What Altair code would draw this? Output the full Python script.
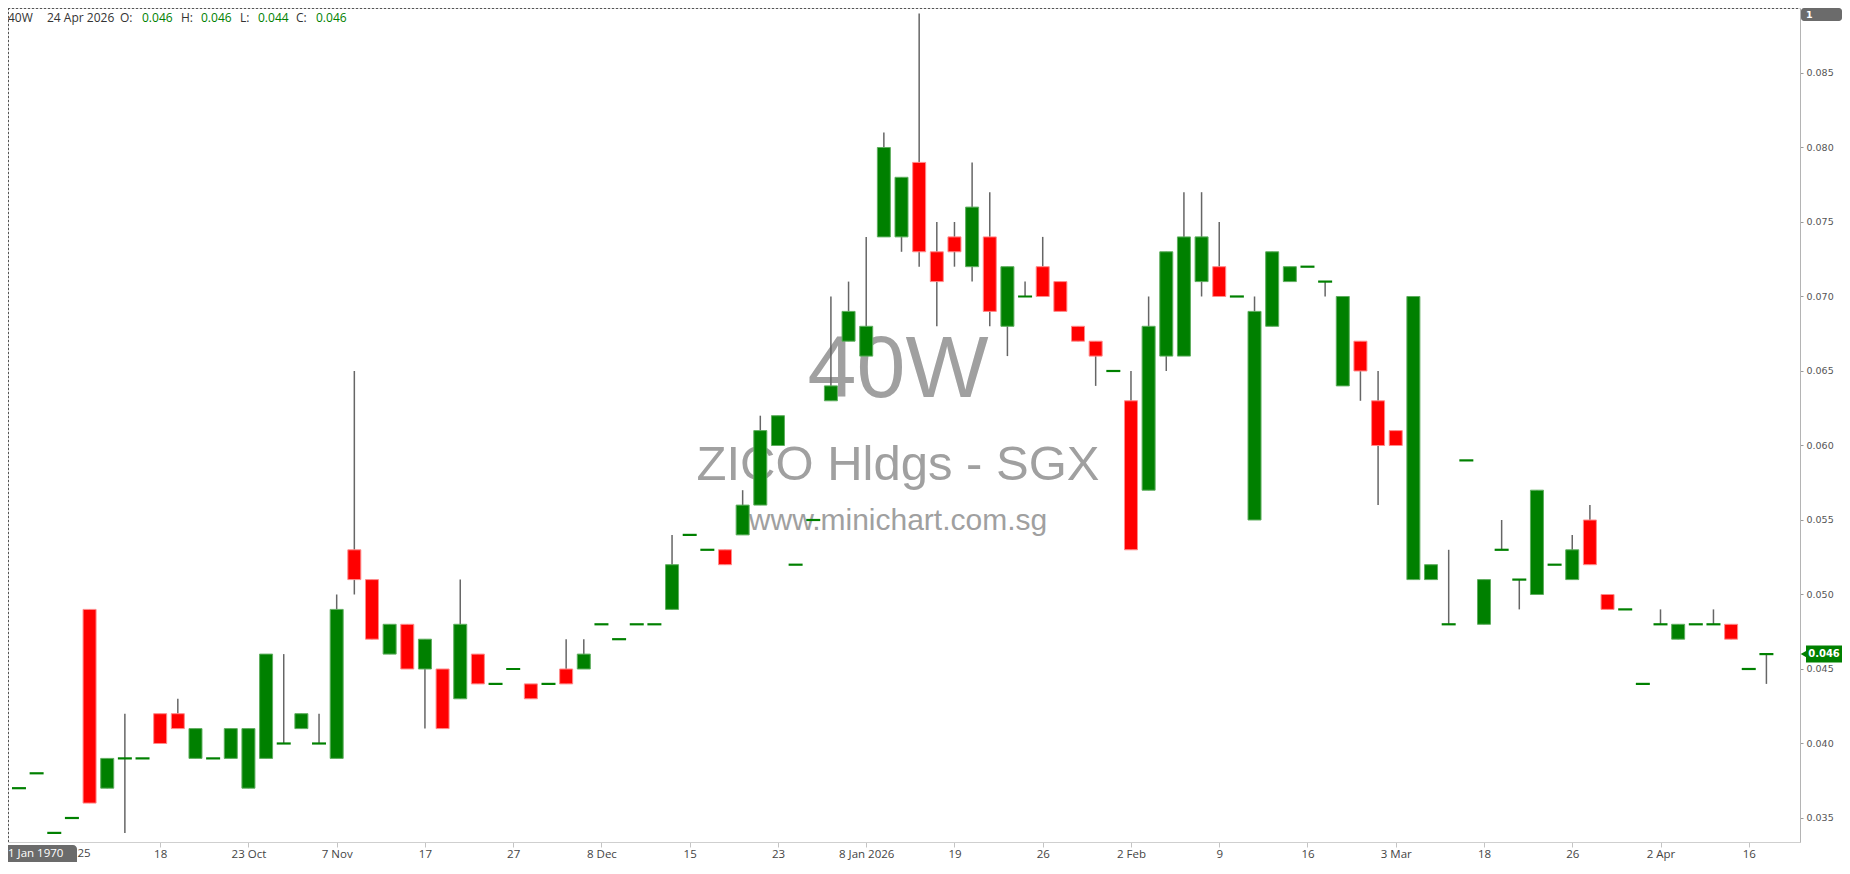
import json
import altair as alt
import pandas as pd

# ---------------- data ----------------
opens = [0.037, 0.038, 0.034, 0.035, 0.049, 0.037, 0.039, 0.039, 0.042, 0.042,
         0.039, 0.039, 0.039, 0.037, 0.039, 0.040, 0.041, 0.040, 0.039, 0.053,
         0.051, 0.046, 0.048, 0.045, 0.045, 0.043, 0.046, 0.044, 0.045, 0.044,
         0.044, 0.045, 0.045, 0.048, 0.047, 0.048, 0.048, 0.049, 0.054, 0.053,
         0.053, 0.054, 0.056, 0.060, 0.052, 0.055, 0.063, 0.067, 0.066, 0.074,
         0.074, 0.079, 0.073, 0.074, 0.072, 0.074, 0.068, 0.070, 0.072, 0.071,
         0.068, 0.067, 0.065, 0.063, 0.057, 0.066, 0.066, 0.071, 0.072, 0.070,
         0.055, 0.068, 0.071, 0.072, 0.071, 0.064, 0.067, 0.063, 0.061, 0.051,
         0.051, 0.048, 0.059, 0.048, 0.053, 0.051, 0.050, 0.052, 0.051, 0.055,
         0.050, 0.049, 0.044, 0.048, 0.047, 0.048, 0.048, 0.048, 0.045, 0.046]
highs = [0.037, 0.038, 0.034, 0.035, 0.049, 0.039, 0.042, 0.039, 0.042, 0.043,
         0.041, 0.039, 0.041, 0.041, 0.046, 0.046, 0.042, 0.042, 0.050, 0.065,
         0.051, 0.048, 0.048, 0.047, 0.045, 0.051, 0.046, 0.044, 0.045, 0.044,
         0.044, 0.047, 0.047, 0.048, 0.047, 0.048, 0.048, 0.054, 0.054, 0.053,
         0.053, 0.057, 0.062, 0.062, 0.052, 0.055, 0.070, 0.071, 0.074, 0.081,
         0.078, 0.089, 0.075, 0.075, 0.079, 0.077, 0.072, 0.071, 0.074, 0.071,
         0.068, 0.067, 0.065, 0.065, 0.070, 0.073, 0.077, 0.077, 0.075, 0.070,
         0.070, 0.073, 0.072, 0.072, 0.071, 0.070, 0.067, 0.065, 0.061, 0.070,
         0.052, 0.053, 0.059, 0.051, 0.055, 0.051, 0.057, 0.052, 0.054, 0.056,
         0.050, 0.049, 0.044, 0.049, 0.048, 0.048, 0.049, 0.048, 0.045, 0.046]
lows = [0.037, 0.038, 0.034, 0.035, 0.036, 0.037, 0.034, 0.039, 0.040, 0.041,
        0.039, 0.039, 0.039, 0.037, 0.039, 0.040, 0.041, 0.040, 0.039, 0.050,
        0.047, 0.046, 0.045, 0.041, 0.041, 0.043, 0.044, 0.044, 0.045, 0.043,
        0.044, 0.044, 0.045, 0.048, 0.047, 0.048, 0.048, 0.049, 0.054, 0.053,
        0.052, 0.054, 0.056, 0.060, 0.052, 0.055, 0.063, 0.067, 0.066, 0.074,
        0.073, 0.072, 0.068, 0.072, 0.071, 0.068, 0.066, 0.070, 0.070, 0.069,
        0.067, 0.064, 0.065, 0.053, 0.057, 0.065, 0.066, 0.070, 0.070, 0.070,
        0.055, 0.068, 0.071, 0.072, 0.070, 0.064, 0.063, 0.056, 0.060, 0.051,
        0.051, 0.048, 0.059, 0.048, 0.053, 0.049, 0.050, 0.052, 0.051, 0.052,
        0.049, 0.049, 0.044, 0.048, 0.047, 0.048, 0.048, 0.047, 0.045, 0.044]
closes = [0.037, 0.038, 0.034, 0.035, 0.036, 0.039, 0.039, 0.039, 0.040, 0.041,
          0.041, 0.039, 0.041, 0.041, 0.046, 0.040, 0.042, 0.040, 0.049, 0.051,
          0.047, 0.048, 0.045, 0.047, 0.041, 0.048, 0.044, 0.044, 0.045, 0.043,
          0.044, 0.044, 0.046, 0.048, 0.047, 0.048, 0.048, 0.052, 0.054, 0.053,
          0.052, 0.056, 0.061, 0.062, 0.052, 0.055, 0.064, 0.069, 0.068, 0.080,
          0.078, 0.073, 0.071, 0.073, 0.076, 0.069, 0.072, 0.070, 0.070, 0.069,
          0.067, 0.066, 0.065, 0.053, 0.068, 0.073, 0.074, 0.074, 0.070, 0.070,
          0.069, 0.073, 0.072, 0.072, 0.071, 0.070, 0.065, 0.060, 0.060, 0.070,
          0.052, 0.048, 0.059, 0.051, 0.053, 0.051, 0.057, 0.052, 0.053, 0.052,
          0.049, 0.049, 0.044, 0.048, 0.048, 0.048, 0.048, 0.047, 0.045, 0.046]

tick_idx = [8, 13, 18, 23, 28, 33, 38, 43, 48, 53, 58, 63, 68, 73, 78, 83, 88, 93, 98]
tick_text = ["18", "23 Oct", "7 Nov", "17", "27", "8 Dec", "15", "23", "8 Jan 2026",
             "19", "26", "2 Feb", "9", "16", "3 Mar", "18", "26", "2 Apr", "16"]
first_label = "25"
y_ticks = [0.035, 0.040, 0.045, 0.050, 0.055, 0.060, 0.065, 0.070, 0.075, 0.080, 0.085]

code = "40W"
last_date = "24 Apr 2026"
name = "ZICO Hldgs - SGX"
site = "www.minichart.com.sg"
crosshair_date = "1 Jan 1970"

# ---------------- layout ----------------
W, H = 1792, 834
PAD = {"left": 0, "top": 0, "right": 42, "bottom": 20}
x_dom = [-0.338, 100.62]
y_top = 0.089362
y_dom = [y_top - H / 14.9 / 1000.0, y_top]

GREEN, RED = "#008000", "#ff0000"

df = pd.DataFrame({"i": list(range(len(opens))), "open": opens, "high": highs,
                   "low": lows, "close": closes})
one = pd.DataFrame({"k": [0]})
last = df.tail(1).copy()
last["lbl"] = last["close"].map(lambda v: f"{v:.3f}")

xscale = alt.Scale(domain=x_dom, nice=False, zero=False)
yscale = alt.Scale(domain=y_dom, nice=False, zero=False)
label_expr = json.dumps(tick_text) + "[round((datum.value - 8) / 5)]"
xaxis = alt.Axis(values=tick_idx, labelExpr=label_expr, title=None, grid=False,
                 domainColor="#cfcfcf", tickColor="#c4c4c4", tickSize=5,
                 labelFont="Open Sans", labelFontSize=11.5, labelColor="#444444",
                 labelPadding=1, labelFlush=False, labelOverlap=False)
yaxis = alt.Axis(orient="right", values=y_ticks, format=".3f", title=None, grid=False,
                 tickSize=3, tickColor="#999999", domainColor="#b4b4b4",
                 labelFont="DejaVu Sans", labelFontSize=9.5, labelColor="#555555",
                 labelPadding=3)

X = alt.X("i:Q", scale=xscale, axis=xaxis)


def Y(field):
    return alt.Y(f"{field}:Q", scale=yscale, axis=yaxis)


# watermark
wm_color = "#a0a0a0"
wm1 = alt.Chart(one).mark_text(font="Liberation Sans", fontSize=88, color=wm_color,
                               align="center", baseline="alphabetic").encode(
    x=alt.value(890), y=alt.value(389), text=alt.value(code))
wm2 = alt.Chart(one).mark_text(font="Liberation Sans", fontSize=49, color=wm_color,
                               align="center", baseline="alphabetic").encode(
    x=alt.value(890), y=alt.value(472), text=alt.value(name))
wm3 = alt.Chart(one).mark_text(font="Liberation Sans", fontSize=30, color=wm_color,
                               align="center", baseline="alphabetic").encode(
    x=alt.value(890), y=alt.value(522), text=alt.value(site))

base = alt.Chart(df)
wicks = base.transform_filter("datum.high > datum.low").mark_rule(
    color="#666666", strokeWidth=1.5).encode(x=X, y=Y("low"), y2="high:Q")
up = base.transform_filter("datum.close > datum.open").mark_bar(
    size=13, color=GREEN, stroke="#5fae5f", strokeWidth=1).encode(
    x=X, y=Y("open"), y2="close:Q")
down = base.transform_filter("datum.close < datum.open").mark_bar(
    size=13, color=RED, stroke="#ff8a8a", strokeWidth=1).encode(
    x=X, y=Y("open"), y2="close:Q")
flat = base.transform_filter("datum.close == datum.open").mark_tick(
    orient="horizontal", size=14, thickness=2.2, color=GREEN, opacity=1).encode(
    x=X, y=Y("close"))

# dashed top / left border
border_top = alt.Chart(one).mark_rule(color="#555555", strokeDash=[2, 2], strokeWidth=1).encode(
    x=alt.value(0), x2=alt.value(W), y=alt.value(0.5))
border_left = alt.Chart(one).mark_rule(color="#555555", strokeDash=[2, 2], strokeWidth=1).encode(
    x=alt.value(0.5), y=alt.value(0), y2=alt.value(H))

# header line
hdr_items = [(code, 0, "#333333"), (last_date, 39, "#333333"),
             ("O:", 112, "#333333"), (f"{opens[-1]:.3f}", 134, GREEN),
             ("H:", 173, "#333333"), (f"{highs[-1]:.3f}", 193, GREEN),
             ("L:", 232, "#333333"), (f"{lows[-1]:.3f}", 250, GREEN),
             ("C:", 288, "#333333"), (f"{closes[-1]:.3f}", 308, GREEN)]
hdr_layers = [alt.Chart(one).mark_text(font="Open Sans", fontSize=12, color=c,
                                       align="left", baseline="middle").encode(
    x=alt.value(xp), y=alt.value(10), text=alt.value(t)) for t, xp, c in hdr_items]

# top-right "1" box
box1 = alt.Chart(one).mark_rect(color="#6b6b6b", cornerRadius=3).encode(
    x=alt.value(W + 1), x2=alt.value(W + 42), y=alt.value(0), y2=alt.value(13))
box1_t = alt.Chart(one).mark_text(color="white", font="DejaVu Sans", fontSize=9.5,
                                  fontWeight="bold", align="left", baseline="middle").encode(
    x=alt.value(W + 6), y=alt.value(6.5), text=alt.value("1"))

# bottom-left date box
box2 = alt.Chart(one).mark_rect(color="#6b6b6b", cornerRadius=4).encode(
    x=alt.value(-8), x2=alt.value(69), y=alt.value(H + 3), y2=alt.value(H + 26))
box2_t = alt.Chart(one).mark_text(color="white", font="Open Sans", fontSize=11.5,
                                  align="left", baseline="middle").encode(
    x=alt.value(0), y=alt.value(H + 12), text=alt.value(crosshair_date))
lbl25 = alt.Chart(one).mark_text(color="#444444", font="Open Sans", fontSize=11.5,
                                 align="center", baseline="top").encode(
    x=alt.value(76), y=alt.value(H + 6), text=alt.value(first_label))

# last price tag
tag_body = alt.Chart(last).mark_tick(orient="horizontal", size=36, thickness=17,
                                     color=GREEN, opacity=1).encode(
    x=alt.value(W + 24), y=Y("close"))
tag_tip = alt.Chart(last).mark_point(shape="triangle-left", filled=True, size=150,
                                     color=GREEN, opacity=1).encode(
    x=alt.value(W + 6), y=Y("close"))
tag_text = alt.Chart(last).mark_text(color="white", font="DejaVu Sans", fontSize=10,
                                     fontWeight="bold", align="center",
                                     baseline="middle").encode(
    x=alt.value(W + 24), y=Y("close"), text="lbl:N")

chart = alt.layer(
    wm1, wm2, wm3, wicks, up, down, flat, border_top, border_left,
    *hdr_layers, box1, box1_t, tag_tip, tag_body, tag_text, box2, box2_t, lbl25
).properties(
    width=W, height=H, padding=PAD, autosize=alt.AutoSizeParams(type="none")
).configure_view(stroke=None).configure(background="white")

chart.save("out.html", embed_options={"renderer": "svg", "actions": False})
